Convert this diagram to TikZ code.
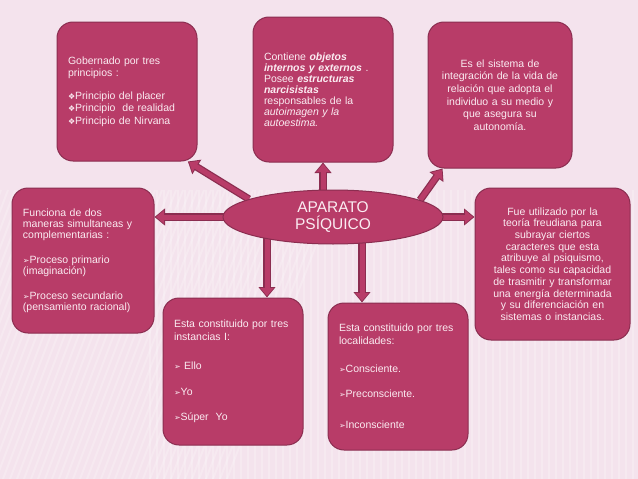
\documentclass[tikz,border=0pt]{standalone}
\usepackage{fontspec}
\setmainfont{Liberation Sans}
\newfontfamily\symfont{DejaVu Sans}
\usetikzlibrary{arrows.meta, shapes.geometric}

\definecolor{fondorosa}{HTML}{F4E3ED}
\definecolor{rosa}{HTML}{B83C68}
\definecolor{borde}{HTML}{8B2D50}
\definecolor{letra}{HTML}{FBECF2}

\pgfdeclarelayer{bg}
\pgfdeclarelayer{flechas}
\pgfsetlayers{bg,flechas,main}

% vinetas
\newcommand{\vi}{{\symfont\fontsize{8}{8}\selectfont ➢}}
\newcommand{\ro}{{\symfont\fontsize{8}{8}\selectfont ❖}}

\begin{document}
\begin{tikzpicture}[x=1pt, y=-1pt,
    caja/.style={draw=borde, line width=1pt, fill=rosa, rounded corners=16pt,
        text=letra, inner xsep=11pt, inner ysep=0pt,
        font=\fontsize{10.5}{12.5}\selectfont},
    centro/.style={ellipse, draw=borde, line width=1pt, fill=rosa, text=letra,
        minimum width=220pt, minimum height=54pt, inner sep=0pt, align=center,
        font=\fontsize{15.5}{17}\selectfont},
    flecha/.style={draw=rosa, line width=5pt, -{Triangle[length=8pt, width=13pt]},
        shorten >=1.5pt,
        preaction={draw=borde, line width=7.5pt,
            -{Triangle[length=10.5pt, width=16.5pt]}, shorten >=0pt}},
    raya/.style={white, opacity=0.22, line width=2pt}]

    \useasboundingbox (0,0) rectangle (638,479);

    % Fondo con rayas
    \begin{pgfonlayer}{bg}
        \fill[fondorosa] (0,0) rectangle (638,479);
        \begin{scope}
            \clip (0,0) rectangle (638,479);
            \foreach \x in {150,157,...,640} {
                \draw[raya] (\x,190) -- (\x,479);
            }
            \foreach \x in {-200,-193,...,230} {
                \draw[raya] (\x,479) -- (\x+110,190);
            }
        \end{scope}
    \end{pgfonlayer}

    % Centro
    \node[centro] (ap) at (333,217) {APARATO\\PSÍQUICO};

    % Cajas de arriba
    \node[caja, text width=118pt, minimum height=139pt, align=left] (gob) at (127,91.5) {
        Gobernado por tres\\
        principios :\\[10pt]
        \ro Principio del placer\\
        \ro Principio\ \ de realidad\\
        \ro Principio de Nirvana
    };
    \node[caja, text width=118pt, minimum height=145pt, align=left,
        font=\fontsize{10.5}{11}\selectfont] (cont) at (323,89.5) {
        Contiene \textbf{\textit{objetos}}\\
        \textbf{\textit{internos y externos}} .\\
        Posee \textbf{\textit{estructuras}}\\
        \textbf{\textit{narcisistas}}\\
        responsables de la\\
        \textit{autoimagen y la}\\
        \textit{autoestima.}
    };
    \node[caja, text width=122pt, minimum height=146pt, align=center,
        font=\fontsize{10.5}{12.7}\selectfont] (sist) at (500,95) {
        Es el sistema de\\
        integración de la vida de\\
        relación que adopta el\\
        individuo a su medio y\\
        que asegura su\\
        autonomía.
    };

    % Cajas de los lados
    \node[caja, text width=120pt, minimum height=145pt, align=left,
        font=\fontsize{10.5}{11}\selectfont] (func) at (83,260.5) {
        Funciona de dos\\
        maneras simultaneas y\\
        complementarias :\\[14pt]
        \vi Proceso primario\\
        (imaginación)\\[14pt]
        \vi Proceso secundario\\
        (pensamiento racional)
    };
    \node[caja, text width=133pt, minimum height=152pt, align=center,
        font=\fontsize{10.5}{11.7}\selectfont] (fue) at (552.5,264) {
        Fue utilizado por la\\
        teoría freudiana para\\
        subrayar ciertos\\
        caracteres que esta\\
        atribuye al psiquismo,\\
        tales como su capacidad\\
        de trasmitir y transformar\\
        una energía determinada\\
        y su diferenciación en\\
        sistemas o instancias.
    };

    % Cajas de abajo
    \node[caja, text width=118pt, minimum height=147pt, align=left,
        font=\fontsize{10.5}{13}\selectfont] (inst) at (233,371.5) {
        Esta constituido por tres\\
        instancias I:\\[16pt]
        \vi\ Ello\\[13pt]
        \vi Yo\\[12pt]
        \vi Súper\ \ Yo
    };
    \node[caja, text width=118pt, minimum height=147pt, align=left,
        font=\fontsize{10.5}{13}\selectfont] (loc) at (398,376.5) {
        Esta constituido por tres\\
        localidades:\\[15pt]
        \vi Consciente.\\[12pt]
        \vi Preconsciente.\\[18pt]
        \vi Inconsciente
    };

    % Flechas
    \begin{pgfonlayer}{flechas}
        \draw[flecha] (ap.168) -- (gob.-49);
        \draw[flecha] (ap.center -| cont.south) -- (cont.south);
        \draw[flecha] (ap.11) -- (sist.-128);
        \draw[flecha] (ap.center) -- (ap.center -| func.east);
        \draw[flecha] (ap.center) -- (ap.center -| fue.west);
        \draw[flecha] ([xshift=-66pt]ap.center) -- ([xshift=-66pt]ap.center |- inst.north);
        \draw[flecha] ([xshift=29pt]ap.center) -- ([xshift=29pt]ap.center |- loc.north);
    \end{pgfonlayer}
\end{tikzpicture}
\end{document}
